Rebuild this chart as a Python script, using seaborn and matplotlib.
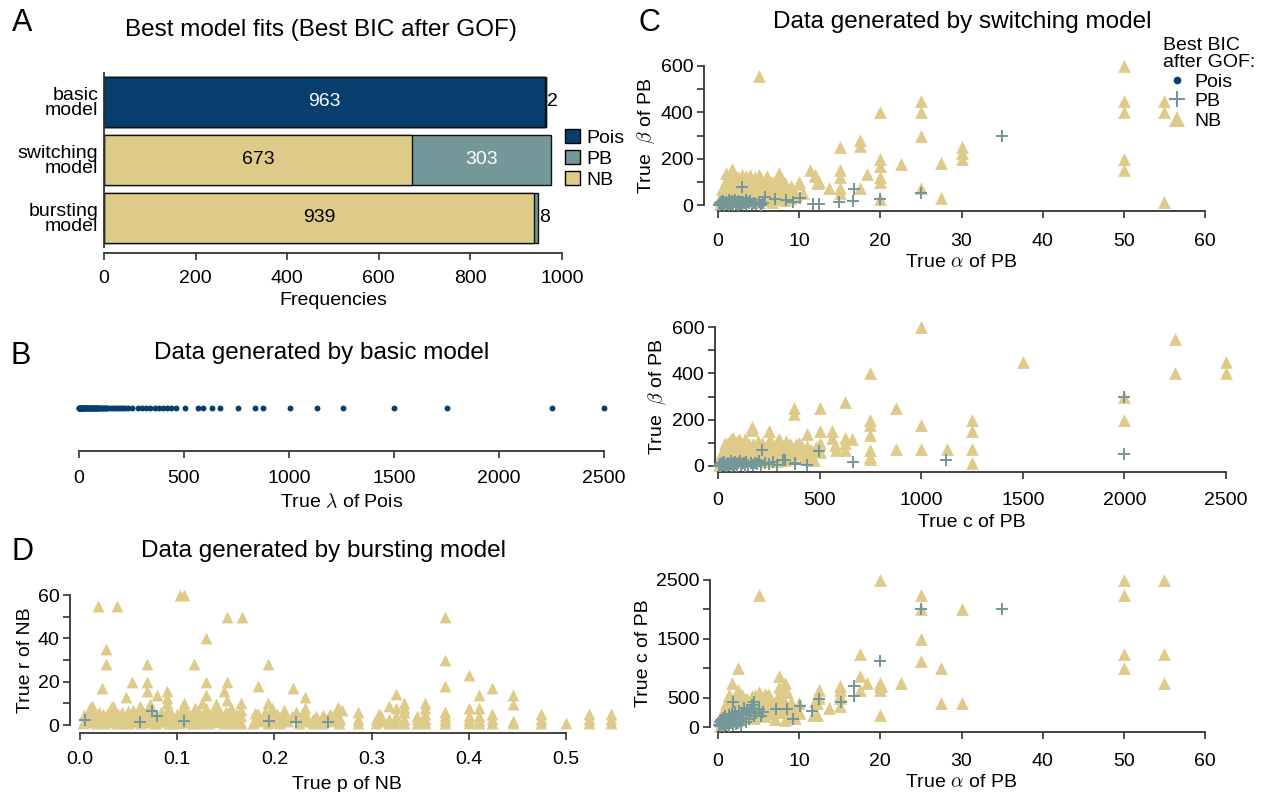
import matplotlib
matplotlib.use("Agg")
import matplotlib.pyplot as plt
import seaborn as sns
from matplotlib.lines import Line2D
from matplotlib.patches import Patch
from matplotlib.ticker import FixedLocator

# ---------------- data ----------------
# Panel A
models = ["basic\nmodel", "switching\nmodel", "bursting\nmodel"]
pois_counts = [963, 0, 0]
nb_counts = [2, 673, 939]
pb_counts = [0, 303, 8]

# Panel B (basic model): true lambda
b_pois_lambda = [0.5, 1, 2, 3, 4, 5, 6, 8, 10, 12,
                 14, 15, 17, 20, 22, 25, 28, 30, 33, 35,
                 38, 40, 42, 45, 48, 50, 53, 55, 58, 60,
                 63, 65, 68, 70, 72, 75, 78, 80, 83, 85,
                 88, 90, 95, 100, 105, 110, 115, 120, 125, 130,
                 135, 140, 150, 160, 170, 180, 190, 200, 210, 220,
                 233, 252, 280, 300, 320, 340, 360, 380, 400, 420,
                 440, 460, 505, 567, 590, 633, 671, 757, 838, 876,
                 1005, 1133, 1257, 1500, 1750, 2250, 2500]
b_nb_lambda = [3, 60]

# Panel C top (alpha vs beta)
ct_nb_alpha = [5, 50, 50, 50, 50, 50, 55, 55, 55, 25,
               25, 25, 25, 20, 20, 20, 20, 20, 20, 30,
               30, 30, 27.5, 27.5, 22.5, 18.3, 17.5, 17.5, 17.5, 15,
               15, 15, 15, 15, 11.3, 12, 12.5, 13.7, 10, 10,
               0.2, 0.4, 0.5, 0.6, 0.8, 0.9, 1, 1.1, 1.2, 1.3,
               1.5, 1.5, 1.6, 1.7, 1.8, 1.9, 2, 2.1, 2.2, 2.3,
               2.5, 2.5, 2.6, 2.8, 2.9, 3, 3.1, 3.3, 3.4, 3.5,
               3.6, 3.8, 4, 4, 4.2, 4.4, 4.6, 4.8, 5, 5,
               5.2, 5.4, 5.6, 5.8, 6, 6.2, 6.3, 6.5, 6.8, 7,
               7.2, 7.5, 7.6, 7.8, 8, 8.2, 8.5, 8.8, 9, 9.3,
               9.6, 10.5, 11.9, 12.2,
               0.3, 0.7, 1.0, 1.4, 1.8, 2.2, 2.6, 3.0, 3.4, 3.8,
               4.2, 4.6, 5.0, 5.4, 5.8, 6.2, 6.6, 7.0, 7.4, 7.8,
               8.2, 8.6, 0.5, 1.2, 1.9, 2.7, 3.5, 4.3, 5.1, 5.9,
               6.7, 7.5, 8.3, 9.0, 1.0, 2.0, 3.0, 4.0, 5.0, 6.0]
ct_nb_beta = [555, 600, 450, 400, 200, 150, 450, 400, 15, 450,
              400, 300, 75, 400, 200, 170, 120, 100, 25, 250,
              225, 200, 180, 30, 175, 135, 280, 255, 75, 250,
              150, 120, 75, 50, 150, 125, 100, 75, 90, 100,
              5, 20, 40, 10, 60, 30, 80, 15, 50, 100,
              35, 70, 130, 155, 20, 90, 55, 110, 30, 75,
              120, 45, 95, 15, 65, 105, 40, 85, 125, 55,
              20, 95, 70, 110, 35, 85, 50, 100, 75, 30,
              115, 60, 90, 45, 80, 105, 60, 35, 85, 70,
              50, 140, 125, 95, 65, 40, 75, 55, 30, 60,
              45, 50, 130, 94,
              30, 50, 110, 60, 115, 85, 50, 75, 95, 60,
              90, 120, 55, 85, 110, 60, 100, 90, 110, 80,
              95, 35, 70, 25, 40, 20, 25, 20, 15, 20,
              15, 25, 20, 80, 140, 135, 130, 130, 130, 125]
ct_pb_alpha = [0.1, 0.2, 0.3, 0.4, 0.5, 0.6, 0.7, 0.8, 0.9, 1,
               1.1, 1.2, 1.3, 1.4, 1.5, 1.6, 1.7, 1.8, 1.9, 2,
               2.1, 2.2, 2.3, 2.4, 2.5, 2.6, 2.7, 2.8, 3, 3.1,
               3.2, 3.4, 3.5, 3.6, 3.8, 4, 4.2, 4.4, 4.7, 5,
               5.3, 5.5, 2.9, 5.8, 7, 8.4, 9.2, 10.1, 11.7, 12.4,
               14.9, 16.6, 16.7, 20, 25, 35]
ct_pb_beta = [2, 8, 1, 12, 4, 18, 6, 2, 10, 15,
              3, 7, 20, 1, 11, 5, 16, 8, 2, 12,
              22, 4, 9, 14, 2, 18, 6, 11, 3, 15,
              8, 20, 4, 12, 7, 16, 3, 10, 5, 13,
              2, 8, 76, 33, 25, 22, 14, 32, 6, 6,
              15, 19, 68, 25, 50, 300]

# Panel C middle (c vs beta)
cm_nb_c = [1000, 2250, 2250, 2500, 2500, 1500, 750, 2000, 2000, 1250,
           1250, 1250, 1250, 1125, 1000, 1000, 875, 875, 750, 750,
           750, 750, 750, 750, 625, 625, 625, 625, 660, 560,
           560, 575, 580, 375, 375, 500, 500, 500, 500, 440,
           440, 460, 165, 165, 250, 300, 330, 400, 420, 350,
           5, 10, 15, 20, 25, 30, 35, 40, 45, 50,
           55, 60, 65, 70, 75, 80, 85, 90, 95, 100,
           105, 110, 120, 125, 130, 140, 145, 150, 160, 170,
           180, 190, 200, 210, 220, 230, 240, 250, 260, 270,
           280, 290, 300, 310, 320, 340, 355, 365, 380, 395,
           410, 425, 440, 455, 470, 480,
           15, 35, 55, 75, 95, 115, 135, 155, 175, 195,
           215, 235, 255, 275, 295, 315, 335, 360, 385, 410,
           30, 60, 90, 120, 150, 180, 210, 250, 290, 330]
cm_nb_beta = [600, 550, 400, 450, 400, 450, 400, 300, 200, 200,
              150, 75, 15, 75, 175, 75, 250, 75, 200, 175,
              135, 70, 40, 30, 275, 120, 100, 70, 115, 150,
              120, 90, 70, 250, 225, 250, 150, 100, 60, 140,
              85, 70, 170, 155, 150, 115, 90, 100, 75, 70,
              5, 20, 40, 10, 60, 30, 80, 15, 50, 100,
              25, 70, 115, 45, 90, 20, 60, 105, 35, 75,
              115, 50, 90, 25, 65, 100, 40, 80, 55, 95,
              30, 70, 50, 85, 35, 60, 20, 90, 45, 70,
              30, 105, 60, 40, 80, 55, 95, 35, 70, 50,
              90, 35, 60, 45, 25, 80,
              50, 100, 80, 120, 60, 85, 115, 95, 75, 110,
              100, 80, 115, 65, 90, 70, 110, 85, 95, 70,
              20, 30, 25, 40, 20, 35, 25, 30, 20, 25]
cm_pb_c = [5, 10, 15, 20, 25, 30, 35, 40, 45, 50,
           55, 60, 65, 70, 75, 80, 85, 90, 95, 100,
           110, 115, 120, 130, 135, 140, 150, 160, 170, 180,
           190, 200, 210, 215, 230, 250, 270, 290, 320, 330,
           379, 380, 436, 499, 666, 1122, 2000, 2000]
cm_pb_beta = [2, 8, 1, 12, 4, 18, 6, 2, 10, 15,
              3, 7, 20, 1, 11, 5, 16, 8, 2, 12,
              22, 4, 9, 14, 2, 18, 6, 11, 3, 15,
              8, 20, 4, 71, 12, 7, 16, 3, 28, 26,
              7, 15, 4, 64, 16, 24, 300, 50]

# Panel C bottom (alpha vs c)
cb_nb_alpha = [20, 50, 55, 5, 25, 50, 25, 30, 25, 17.5,
               25, 50, 55, 50, 27.5, 55, 2.5, 27.5, 30, 20,
               20, 20, 20, 22.5, 18.3, 17.5, 17.5, 15, 15, 15,
               12.5, 12.5, 12, 11.7, 10, 13.7, 8.3, 7.5, 8.3, 2.5,
               1.7, 1.3, 1.5, 8.5, 6.2, 6.2, 5.1, 10, 12.2, 12.2,
               15, 15, 20.1,
               0.2, 0.4, 0.5, 0.6, 0.8, 0.9, 1, 1.1, 1.2, 1.3,
               1.5, 1.5, 1.7, 1.8, 1.9, 2, 2.1, 2.2, 2.3, 2.5,
               2.6, 2.8, 3, 3.1, 3.3, 3.4, 3.6, 3.8, 4, 4.2,
               4.4, 4.6, 4.8, 5, 5.2, 5.4, 5.6, 5.8, 6, 6.2,
               6.3, 6.5, 6.8, 7, 7.2, 7.5, 7.6, 7.8, 8, 8.2,
               8.5, 8.8, 9, 9.5, 10,
               0.3, 0.7, 1.0, 1.4, 1.8, 2.2, 2.6, 3.0, 3.4, 3.8,
               4.2, 4.6, 5.0, 5.4, 5.8, 6.2, 6.6, 7.0, 7.4, 7.8,
               8.2, 8.6, 9.2, 0.5, 1.2, 2.0, 2.8, 3.6, 4.4, 5.2]
cb_nb_c = [2500, 2500, 2500, 2250, 2250, 2250, 2000, 2000, 1500, 1250,
           1125, 1250, 1250, 1000, 1000, 750, 1000, 400, 400, 200,
           750, 700, 625, 750, 750, 875, 625, 625, 550, 500,
           625, 500, 450, 200, 400, 320, 750, 875, 600, 625,
           750, 550, 450, 600, 550, 430, 450, 235, 400, 200,
           700, 360, 690,
           20, 100, 200, 50, 300, 150, 400, 80, 250, 550,
           180, 350, 450, 100, 280, 500, 200, 380, 120, 320,
           450, 220, 550, 160, 400, 280, 480, 200, 350, 520,
           150, 430, 300, 600, 250, 380, 480, 180, 320, 450,
           540, 230, 380, 140, 300, 680, 500, 400, 250, 120,
           320, 190, 430, 160, 250,
           150, 250, 300, 420, 350, 520, 380, 300, 480, 400,
           300, 550, 420, 320, 560, 300, 420, 250, 520, 350,
           400, 250, 330, 60, 120, 150, 190, 230, 260, 200]
cb_pb_alpha = [0.1, 0.2, 0.3, 0.4, 0.5, 0.6, 0.7, 0.8, 0.9, 1,
               1.1, 1.2, 1.3, 1.4, 1.5, 1.6, 1.7, 1.8, 1.9, 2,
               2.1, 2.2, 2.3, 2.4, 2.5, 2.6, 2.7, 2.8, 3, 3.1,
               3.2, 3.4, 3.5, 3.6, 3.8, 4, 4.2, 4.4, 4.7, 5,
               5.3, 5.6, 1.8, 4.4, 20, 16.7, 16.7, 15.1, 12.5, 10.1,
               11.6, 9.3, 8.5, 7.2, 25, 35]
cb_pb_c = [30, 80, 10, 120, 50, 150, 20, 90, 180, 40,
           110, 60, 200, 15, 130, 75, 220, 35, 160, 95,
           250, 45, 140, 190, 70, 280, 110, 30, 230, 160,
           330, 80, 200, 290, 130, 260, 380, 180, 240, 300,
           190, 260, 420, 420, 1130, 700, 530, 420, 470, 360,
           270, 130, 300, 300, 2000, 2000]

# Panel D (bursting model): p vs r
d_nb_high_p = [0.019, 0.038, 0.103, 0.107, 0.151, 0.167, 0.375, 0.13, 0.027, 0.375,
               0.027, 0.069, 0.117, 0.193, 0.4, 0.023, 0.054, 0.069, 0.13, 0.151,
               0.183, 0.375, 0.219, 0.424, 0.069, 0.09, 0.148, 0.047, 0.079, 0.13,
               0.231, 0.325, 0.411, 0.445, 0.09, 0.151, 0.09, 0.107, 0.333, 0.355,
               0.166, 0.193, 0.445, 0.318, 0.126, 0.14, 0.012, 0.034, 0.062, 0.072]
d_nb_high_r = [55, 55, 60, 60, 50, 50, 50, 40, 35, 30,
               28, 28, 28, 28, 23, 17, 20, 20, 20, 20,
               18, 18, 17, 17, 15.5, 15.5, 15.5, 13, 14, 14,
               13, 14.5, 14, 14, 12.5, 11.5, 10, 10, 10.3, 10,
               10, 10, 9.5, 9, 10, 9.5, 9, 9, 9, 9.5]
d_nb_low_p = [0.003, 0.005, 0.008, 0.01, 0.012, 0.015, 0.018, 0.02, 0.022, 0.025,
              0.028, 0.03, 0.032, 0.035, 0.038, 0.04, 0.043, 0.045, 0.048, 0.05,
              0.052, 0.055, 0.058, 0.06, 0.063, 0.065, 0.068, 0.07, 0.072, 0.075,
              0.078, 0.08, 0.083, 0.085, 0.088, 0.09, 0.092, 0.095, 0.098, 0.1,
              0.102, 0.105, 0.108, 0.11, 0.112, 0.115, 0.118, 0.12, 0.122, 0.125,
              0.128, 0.13, 0.132, 0.135, 0.138, 0.14, 0.142, 0.145, 0.148, 0.15,
              0.152, 0.155, 0.157, 0.16,
              0.166, 0.166, 0.166, 0.178, 0.18, 0.183, 0.186, 0.19, 0.193, 0.195,
              0.198, 0.2, 0.203, 0.206, 0.208, 0.21, 0.214, 0.218, 0.222, 0.225,
              0.228, 0.231, 0.231, 0.235, 0.24, 0.243, 0.247, 0.25, 0.253, 0.257,
              0.26, 0.263, 0.266, 0.268, 0.27, 0.265]
d_nb_low_r = [1, 3, 5, 8, 2, 4, 1, 6, 3, 1,
              5, 2, 8, 4, 1, 3, 6, 2, 4, 1,
              3, 7, 2, 5, 1, 3, 4, 8, 2, 5,
              1, 3, 6, 2, 4, 7, 1, 3, 2, 5,
              1, 3, 7, 2, 5, 1, 8, 3, 6, 2,
              4, 8, 1, 5, 3, 7, 2, 4, 1, 6,
              3, 8, 2, 5,
              1, 4, 7, 1, 3, 5, 2, 6, 1, 4,
              8, 2, 5, 1, 3, 7, 2, 4, 6, 1,
              3, 5, 8, 2, 1, 4, 2, 1, 3, 5,
              2, 6, 1, 3, 7, 8.5]
d_nb_fill_p = [0.004, 0.009, 0.014, 0.019, 0.024, 0.029, 0.034, 0.039, 0.044, 0.049,
               0.054, 0.059, 0.064, 0.069, 0.074, 0.079, 0.084, 0.089, 0.094, 0.099,
               0.104, 0.109, 0.114, 0.119, 0.124, 0.129, 0.134, 0.139, 0.144, 0.149,
               0.154, 0.159, 0.006, 0.016, 0.026, 0.036, 0.046, 0.056, 0.066, 0.076,
               0.086, 0.096, 0.106, 0.116, 0.126, 0.136, 0.146, 0.156, 0.18, 0.19,
               0.2, 0.21, 0.22, 0.23, 0.24, 0.25, 0.26, 0.185, 0.205, 0.245]
d_nb_fill_r = [4.5, 2, 6, 3.5, 5, 2.5, 6, 5, 3, 6.5,
               4.5, 3, 6, 2.5, 7, 3, 4.5, 2.5, 5.5, 3,
               6, 4.5, 3, 5.5, 2.5, 6, 3.5, 4.5, 6, 3,
               4.5, 2, 1.5, 1.5, 2.5, 1.5, 1, 2, 1.5, 1,
               2, 1, 1.5, 1, 1, 1.5, 2, 1, 5.5, 3,
               6, 4.5, 3.5, 6.5, 3, 4.5, 4, 2.5, 1.5, 2.5]
d_nb_right_p = [0.286, 0.286, 0.286, 0.305, 0.305, 0.308, 0.31, 0.31, 0.318, 0.318,
                0.325, 0.325, 0.325, 0.333, 0.333, 0.333, 0.333, 0.347, 0.347, 0.347,
                0.355, 0.355, 0.355, 0.355, 0.375, 0.375, 0.375, 0.375, 0.4, 0.4,
                0.4, 0.4, 0.411, 0.411, 0.411, 0.411, 0.424, 0.424, 0.424, 0.445,
                0.445, 0.474, 0.474, 0.474, 0.5, 0.524, 0.524, 0.524, 0.546, 0.546,
                0.546]
d_nb_right_r = [1, 3, 6, 1, 3, 5, 2, 4, 1, 3,
                1, 4, 8, 1, 3, 6, 8, 1, 3, 4,
                1, 3, 5, 8, 1, 2.5, 4, 6, 1, 2.5,
                4, 8, 1, 2.5, 4, 8, 1, 3, 5, 1,
                2, 1, 3, 5, 1, 1, 3, 5, 1, 3,
                5]
d_pb_p = [0.005, 0.062, 0.074, 0.079, 0.107, 0.194, 0.222, 0.255]
d_pb_r = [2.5, 1.5, 6.5, 4, 2, 2, 1.5, 1.5]

# ---------------- style ----------------
POIS = "#063f6e"
PB = "#74979a"
NB = "#dfcb89"
SPINE = "#333333"
FS = 14
TFS = 17.5

sns.set_style("ticks")
plt.rcParams['font.family'] = ['Liberation Sans', 'DejaVu Sans']
plt.rcParams['mathtext.fontset'] = 'cm'
plt.rcParams['text.color'] = 'black'
plt.rcParams['axes.labelcolor'] = 'black'
plt.rcParams['xtick.labelcolor'] = 'black'
plt.rcParams['ytick.labelcolor'] = 'black'

W, H = 1265, 792
fig = plt.figure(figsize=(W / 100, H / 100), dpi=100)
PT = 0.72  # pixels -> points


def add_ax(l, t, r, b):
    return fig.add_axes([l / W, 1 - b / H, (r - l) / W, (b - t) / H])


def style(ax, left_px=10, bottom_px=6, show_left=True, xpad=7):
    ax.spines[['top', 'right']].set_visible(False)
    ax.spines['left'].set_position(('outward', left_px * PT))
    ax.spines['bottom'].set_position(('outward', bottom_px * PT))
    for s in ['left', 'bottom']:
        ax.spines[s].set_color(SPINE)
        ax.spines[s].set_linewidth(1.3)
    ax.spines['left'].set_visible(show_left)
    ax.tick_params(which='both', direction='out', color=SPINE, width=1.2,
                   length=5, labelsize=FS)
    ax.tick_params(axis='x', pad=xpad)
    ax.tick_params(axis='y', pad=2.5)
    ax.set_facecolor('none')


NB_KW = dict(marker='^', color=NB, s=85, linewidth=0, clip_on=False, zorder=2)
PB_KW = dict(marker='+', color=PB, s=72, linewidth=1.4, clip_on=False, zorder=3)
POIS_KW = dict(marker='o', color=POIS, s=16, linewidth=0, clip_on=False, zorder=4)

# ---------------- Panel A ----------------
axA = add_ax(104, 73, 562, 247)
totals = [p + n + b for p, n, b in zip(pois_counts, nb_counts, pb_counts)]
pois_nb = [p + n for p, n in zip(pois_counts, nb_counts)]
bar_kw = dict(orient='h', width=0.845, edgecolor='#111111', linewidth=1.0,
              saturation=1, ax=axA)
sns.barplot(x=totals, y=models, color=PB, **bar_kw)
sns.barplot(x=pois_nb, y=models, color=NB, **bar_kw)
sns.barplot(x=pois_counts, y=models, color=POIS, **bar_kw)
axA.set_xlim(0, 1000)
axA.set_ylim(2.5, -0.5)
style(axA, left_px=0, bottom_px=6, xpad=7)
axA.tick_params(axis='y', length=0, pad=4)
for lab in axA.get_yticklabels():
    lab.set_linespacing(0.88)
    lab.set_fontsize(FS)
axA.set_xticks([0, 200, 400, 600, 800, 1000])
axA.set_xlabel("Frequencies", fontsize=FS, labelpad=4)
axA.set_ylabel("")
for i in range(3):
    segs = [(0, pois_counts[i], 'white'),
            (pois_counts[i], nb_counts[i], 'black'),
            (pois_counts[i] + nb_counts[i], pb_counts[i], 'white')]
    for start, w, tc in segs:
        if w <= 0:
            continue
        if w > 60:
            axA.text(start + w / 2, i, str(w), ha='center', va='center',
                     color=tc, fontsize=FS)
        else:
            axA.text(totals[i] + 3, i, str(w), ha='left', va='center',
                     color='black', fontsize=FS)
fig.legend(handles=[Patch(fc=POIS, ec='black', lw=1), Patch(fc=PB, ec='black', lw=1),
                    Patch(fc=NB, ec='black', lw=1)],
           labels=["Pois", "PB", "NB"], loc='upper left',
           bbox_to_anchor=(565 / W, 1 - 129 / H), frameon=False, fontsize=FS,
           handlelength=0.75, handleheight=0.75, handletextpad=0.35,
           labelspacing=0.15, borderaxespad=0, borderpad=0)

# ---------------- Panel B ----------------
axB = add_ax(79, 398, 604, 418)
sns.scatterplot(x=b_nb_lambda, y=[0] * len(b_nb_lambda), ax=axB,
                **{**NB_KW, 's': 20})
sns.scatterplot(x=b_pois_lambda, y=[0] * len(b_pois_lambda), ax=axB,
                **{**POIS_KW, 's': 18})
axB.set_xlim(0, 2500)
axB.set_ylim(-1, 1)
style(axB, bottom_px=33, show_left=False, xpad=8.5)
axB.set_yticks([])
axB.set_xticks([0, 500, 1000, 1500, 2000, 2500])
axB.set_xlabel(r"True $\lambda$ of Pois", fontsize=FS, labelpad=4)

# ---------------- Panel D ----------------
axD = add_ax(80, 595, 614.6, 725)
d_nb_p = d_nb_high_p + d_nb_low_p + d_nb_fill_p + d_nb_right_p
d_nb_r = d_nb_high_r + d_nb_low_r + d_nb_fill_r + d_nb_right_r
sns.scatterplot(x=d_nb_p, y=d_nb_r, ax=axD, **{**NB_KW, 's': 72})
sns.scatterplot(x=d_pb_p, y=d_pb_r, ax=axD, **PB_KW)
axD.set_xlim(0, 0.55)
axD.set_ylim(0, 60)
style(axD, left_px=10, bottom_px=8, xpad=8)
axD.set_xticks([0, 0.1, 0.2, 0.3, 0.4, 0.5])
axD.set_xticklabels(["0.0", "0.1", "0.2", "0.3", "0.4", "0.5"])
axD.spines['bottom'].set_bounds(0, 0.5)
axD.set_yticks([0, 20, 40, 60])
axD.yaxis.set_minor_locator(FixedLocator([10, 30, 50]))
axD.set_xlabel("True p of NB", fontsize=FS, labelpad=6)
axD.set_ylabel("True r of NB", fontsize=FS, labelpad=3)

# ---------------- Panel C top ----------------
axC1 = add_ax(718, 66, 1205, 205)
sns.scatterplot(x=ct_nb_alpha, y=ct_nb_beta, ax=axC1, **NB_KW)
sns.scatterplot(x=ct_pb_alpha, y=ct_pb_beta, ax=axC1, **PB_KW)
axC1.set_xlim(0, 60)
axC1.set_ylim(0, 600)
style(axC1, left_px=14, bottom_px=6, xpad=10.5)
axC1.set_xticks([0, 10, 20, 30, 40, 50, 60])
axC1.set_yticks([0, 200, 400, 600])
axC1.yaxis.set_minor_locator(FixedLocator([100, 300, 500]))
axC1.set_xlabel(r"True $\alpha$ of PB", fontsize=FS, labelpad=3.5)
axC1.set_ylabel(r"True  $\beta$ of PB", fontsize=FS, labelpad=3)

# ---------------- Panel C middle ----------------
axC2 = add_ax(718, 327, 1226, 466)
sns.scatterplot(x=cm_nb_c, y=cm_nb_beta, ax=axC2, **NB_KW)
sns.scatterplot(x=cm_pb_c, y=cm_pb_beta, ax=axC2, **PB_KW)
axC2.set_xlim(0, 2500)
axC2.set_ylim(0, 600)
style(axC2, left_px=3, bottom_px=6, xpad=9.5)
axC2.set_xticks([0, 500, 1000, 1500, 2000, 2500])
axC2.set_yticks([0, 200, 400, 600])
axC2.yaxis.set_minor_locator(FixedLocator([100, 300, 500]))
axC2.set_xlabel("True c of PB", fontsize=FS, labelpad=3.5)
axC2.set_ylabel(r"True  $\beta$ of PB", fontsize=FS, labelpad=3)

# ---------------- Panel C bottom ----------------
axC3 = add_ax(718, 580, 1205, 727)
sns.scatterplot(x=cb_nb_alpha, y=cb_nb_c, ax=axC3, **NB_KW)
sns.scatterplot(x=cb_pb_alpha, y=cb_pb_c, ax=axC3, **PB_KW)
axC3.set_xlim(0, 60)
axC3.set_ylim(0, 2500)
style(axC3, left_px=8, bottom_px=5, xpad=10)
axC3.set_xticks([0, 10, 20, 30, 40, 50, 60])
axC3.set_yticks([0, 500, 1500, 2500])
axC3.yaxis.set_minor_locator(FixedLocator([1000, 2000]))
axC3.set_xlabel(r"True $\alpha$ of PB", fontsize=FS, labelpad=3)
axC3.set_ylabel("True c of PB", fontsize=FS, labelpad=3)

legC = fig.legend(handles=[Line2D([], [], ls='', marker='o', color=POIS, markersize=4.5),
                           Line2D([], [], ls='', marker='+', color=PB, markersize=11, mew=1.5),
                           Line2D([], [], ls='', marker='^', color=NB, markersize=12, mew=0)],
                  labels=["Pois", "PB", "NB"], title="Best BIC\nafter GOF:",
                  title_fontsize=FS, fontsize=FS, loc='upper left',
                  bbox_to_anchor=(1163 / W, 1 - 37 / H), frameon=False, alignment='left',
                  handlelength=1.4, handletextpad=0.2, labelspacing=0.1,
                  borderaxespad=0, borderpad=0)
legC.get_title().set_linespacing(1.0)

# ---------------- titles & panel letters ----------------
fig.text(321 / W, 1 - 30 / H, "Best model fits (Best BIC after GOF)", ha='center',
         va='center', fontsize=TFS)
fig.text(322 / W, 1 - 353 / H, "Data generated by basic model", ha='center',
         va='center', fontsize=TFS)
fig.text(323 / W, 1 - 551 / H, "Data generated by bursting model", ha='center',
         va='center', fontsize=TFS)
fig.text(962 / W, 1 - 22 / H, "Data generated by switching model", ha='center',
         va='center', fontsize=TFS)
for letter, x, y in [("A", 22, 23), ("B", 21, 356), ("D", 22, 552), ("C", 649, 23)]:
    fig.text(x / W, 1 - y / H, letter, ha='center', va='center', fontsize=22)

fig.savefig("out.png", dpi=100)
